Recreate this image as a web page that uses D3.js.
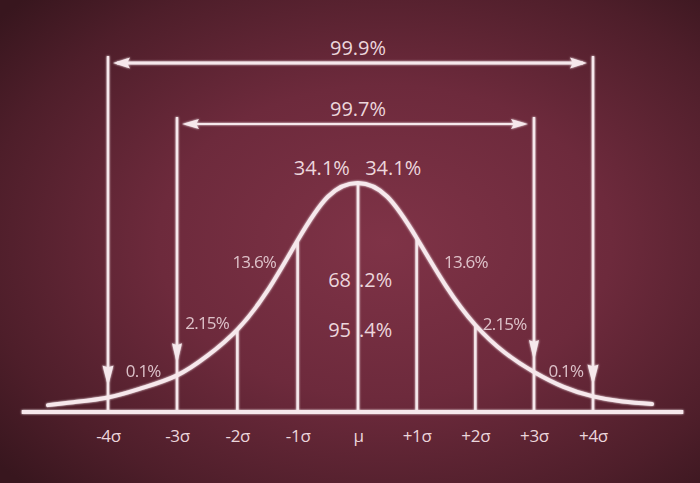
<!DOCTYPE html>
<html>
<head>
<meta charset="utf-8">
<script src="https://cdn.jsdelivr.net/npm/d3@7"></script>
<style>
  html, body { margin: 0; padding: 0; background: #3a1820; }
  svg { display: block; }
  text { font-family: "Open Sans", "Noto Sans", sans-serif; fill: #ecd6dc; }
</style>
</head>
<body>
<div id="chart"></div>
<script>
// ---------- data ----------
const sigmaTicks = [-4, -3, -2, -1, 0, 1, 2, 3, 4];
const tickLabels = ["-4σ", "-3σ", "-2σ", "-1σ", "μ", "+1σ", "+2σ", "+3σ", "+4σ"];

// bell curve: position in σ, height in % of peak
const curveSigma  = [-4.87, -4.5, -4, -3.5, -3, -2.5, -2, -1.5, -1, -0.5, 0, 0.5, 1, 1.5, 2, 2.5, 3, 3.5, 4, 4.5, 5.0];
const curveHeight = [3, 4.3, 6.3, 10.5, 16, 24.5, 36, 53, 75, 94, 100, 94, 76, 55, 38, 26, 17.5, 11, 6.8, 4.6, 3.5];

// region labels (anchor in σ and height %)
const regionText   = ["0.1%", "2.15%", "13.6%", "34.1%", "34.1%", "13.6%", "2.15%", "0.1%"];
const regionSigma  = [-3.49, -2.5, -1.72, -0.6, 0.6, 1.84, 2.5, 3.54];
const regionHeight = [15.3, 36.2, 62.9, 103.5, 103.5, 62.9, 35.8, 15.3];
const regionBig    = [false, false, false, true, true, false, false, false];

// central cumulative labels, split by the μ line
const centralLeft   = ["68", "95"];
const centralRight  = [".2%", ".4%"];
const centralHeight = [54.6, 32.8];

// spanning arrows
const spanSigma = [4, 3];
const spanText  = ["99.9%", "99.7%"];

// ---------- layout ----------
const W = 700, H = 483;
const svg = d3.select("#chart").append("svg").attr("width", W).attr("height", H);

const x = d3.scaleLinear().domain([-4, -3, 0, 3, 4]).range([108, 177, 358, 534, 593]);
const y = d3.scaleLinear().domain([0, 100]).range([412, 183]);
const spanY = d3.scaleOrdinal().domain(spanSigma).range([63, 124]);

const defs = svg.append("defs");
const bg = defs.append("radialGradient").attr("id", "bg")
  .attr("cx", "55%").attr("cy", "50%").attr("r", "72%");
bg.append("stop").attr("offset", "0%").attr("stop-color", "#7f3347");
bg.append("stop").attr("offset", "45%").attr("stop-color", "#6d2a3c");
bg.append("stop").attr("offset", "80%").attr("stop-color", "#4e1e2a");
bg.append("stop").attr("offset", "100%").attr("stop-color", "#38161e");

const glow = defs.append("filter").attr("id", "chalk").attr("x", "-10%").attr("y", "-10%").attr("width", "120%").attr("height", "120%");
glow.append("feGaussianBlur").attr("in", "SourceGraphic").attr("stdDeviation", 1.0).attr("result", "b");
const fm = glow.append("feMerge");
fm.append("feMergeNode").attr("in", "b");
fm.append("feMergeNode").attr("in", "SourceGraphic");

svg.append("rect").attr("width", W).attr("height", H).attr("fill", "url(#bg)");

const ink = "#f6e8ec";
const g = svg.append("g").attr("filter", "url(#chalk)");

const heightAt = s => curveHeight[curveSigma.indexOf(s)];

// baseline
g.append("line")
  .attr("x1", x(-5.25)).attr("x2", x(5.53))
  .attr("y1", y(0)).attr("y2", y(0))
  .attr("stroke", ink).attr("stroke-width", 4);

// vertical sigma lines
g.selectAll("line.v").data(sigmaTicks).join("line").attr("class", "v")
  .attr("x1", d => x(d)).attr("x2", d => x(d))
  .attr("y1", d => Math.abs(d) >= 3 ? spanY(Math.abs(d)) - 7 : y(heightAt(d)))
  .attr("y2", y(0))
  .attr("stroke", ink).attr("stroke-width", 2.5);

// down arrowheads at ±3σ, ±4σ
const arrowSig = sigmaTicks.filter(d => Math.abs(d) >= 3);
g.selectAll("path.ah").data(arrowSig).join("path").attr("class", "ah")
  .attr("d", d => {
    const tx = x(d), ty = y(heightAt(d)) - 11, hw = Math.abs(d) === 4 ? 5.5 : 5, len = 21;
    return `M${tx},${ty} L${tx - hw},${ty - len} L${tx},${ty - len + 2} L${tx + hw},${ty - len} Z`;
  })
  .attr("fill", ink);

// bell curve
const line = d3.line()
  .x((d, i) => x(curveSigma[i]))
  .y(d => y(d))
  .curve(d3.curveNatural);
g.append("path").datum(curveHeight)
  .attr("d", line)
  .attr("fill", "none").attr("stroke", ink).attr("stroke-width", 4)
  .attr("stroke-linecap", "round");

// horizontal span arrows
spanSigma.forEach((s, i) => {
  const yy = spanY(s), x0 = x(-s) + 5, x1 = x(s) - 6, len = 17, hw = s === 4 ? 5.5 : 5;
  g.append("line").attr("x1", x0 + 4).attr("x2", x1 - 4).attr("y1", yy).attr("y2", yy)
    .attr("stroke", ink).attr("stroke-width", s === 4 ? 3 : 2.2);
  g.append("path").attr("fill", ink)
    .attr("d", `M${x0},${yy} L${x0 + len},${yy - hw} L${x0 + len - 3},${yy} L${x0 + len},${yy + hw} Z`);
  g.append("path").attr("fill", ink)
    .attr("d", `M${x1},${yy} L${x1 - len},${yy - hw} L${x1 - len + 3},${yy} L${x1 - len},${yy + hw} Z`);
  svg.append("text").attr("x", x(0)).attr("y", yy - 8)
    .attr("text-anchor", "middle").attr("font-size", 20).text(spanText[i]);
});

// region labels
svg.selectAll("text.reg").data(regionText).join("text").attr("class", "reg")
  .attr("x", (d, i) => x(regionSigma[i]))
  .attr("y", (d, i) => y(regionHeight[i]))
  .attr("text-anchor", "middle")
  .attr("font-size", (d, i) => regionBig[i] ? 20 : 17)
  .attr("opacity", (d, i) => regionBig[i] ? 1 : 0.88)
  .attr("letter-spacing", (d, i) => regionBig[i] ? 0 : -0.8)
  .text(d => d);

// central labels
svg.selectAll("text.cl").data(centralLeft).join("text").attr("class", "cl")
  .attr("x", x(0) - 7).attr("y", (d, i) => y(centralHeight[i]))
  .attr("text-anchor", "end").attr("font-size", 20).text(d => d);
svg.selectAll("text.cr").data(centralRight).join("text").attr("class", "cr")
  .attr("x", x(0) + 1).attr("y", (d, i) => y(centralHeight[i]))
  .attr("text-anchor", "start").attr("font-size", 20).text(d => d);

// axis labels
const axis = d3.axisBottom(x).tickValues(sigmaTicks)
  .tickFormat((d, i) => tickLabels[i]).tickSize(0).tickPadding(18);
const ax = svg.append("g").attr("transform", `translate(0,${y(0)})`).call(axis);
ax.select(".domain").remove();
ax.selectAll("text").attr("font-size", 17).attr("fill", "#ecd6dc")
  .attr("font-family", "'Open Sans', sans-serif").attr("letter-spacing", -0.3);
</script>
</body>
</html>
